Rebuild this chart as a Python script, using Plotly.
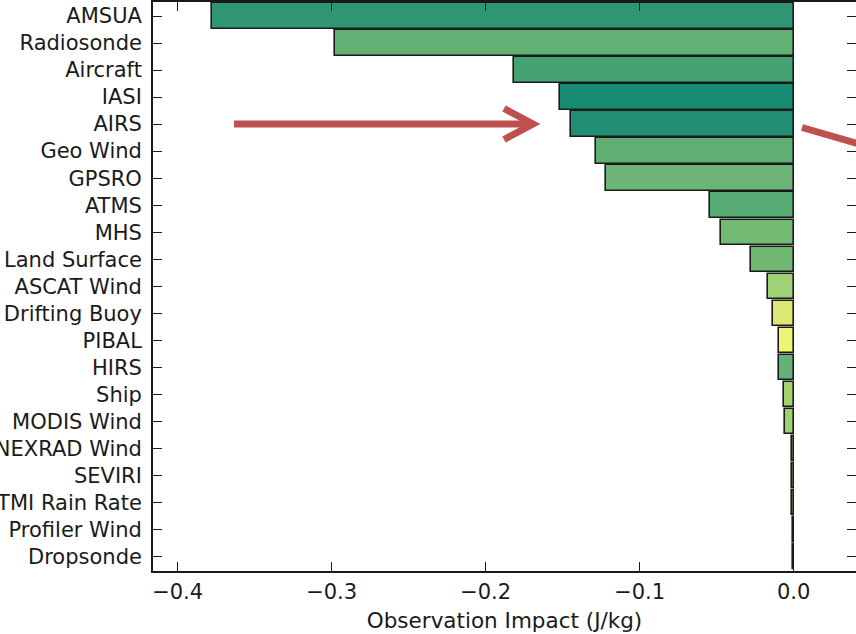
import plotly.graph_objects as go

# Observation types, ordered from largest to smallest impact
obs_types = [
    "AMSUA", "Radiosonde", "Aircraft", "IASI", "AIRS", "Geo Wind", "GPSRO",
    "ATMS", "MHS", "Land Surface", "ASCAT Wind", "Drifting Buoy", "PIBAL",
    "HIRS", "Ship", "MODIS Wind", "NEXRAD Wind", "SEVIRI", "TMI Rain Rate",
    "Profiler Wind", "Dropsonde",
]

# Total observation impact (J/kg)
impact = [
    -0.378, -0.2977, -0.1816, -0.1518, -0.1446, -0.1284, -0.1219,
    -0.0545, -0.0473, -0.0279, -0.0169, -0.0136, -0.0097,
    -0.0097, -0.0065, -0.0058, -0.0010, -0.0010, -0.0009,
    -0.0001, -0.0001,
]

# Bar fill colours
bar_colors = [
    "#2E9674", "#62B175", "#45A373", "#178A72", "#208E73", "#5FAE74", "#6CB576",
    "#56AA73", "#73BA75", "#70B872", "#A0D275", "#DDE977", "#EEF573",
    "#62B275", "#A0D26E", "#9ED070", "#8CC870", "#8CC870", "#8CC870",
    "#8CC870", "#8CC870",
]

x_ticks = [-0.4, -0.3, -0.2, -0.1, 0.0]

W, H = 856, 634
ML, MR, MT, MB = 153, 0, 2, 63
FONT = "DejaVu Sans"
INK = "#1a1a1a"
ARROW = "#C0504D"

fig = go.Figure()
fig.add_trace(go.Bar(
    x=impact, y=obs_types, orientation="h",
    marker=dict(color=bar_colors, line=dict(color=INK, width=1.6)),
    width=0.94, hoverinfo="skip",
))
# invisible companion trace that carries the right-hand tick marks
fig.add_trace(go.Scatter(
    x=[0] * len(obs_types), y=obs_types, yaxis="y2", mode="markers",
    marker=dict(opacity=0), hoverinfo="skip", showlegend=False,
))

y_range = [len(obs_types) - 0.46, -0.52]

fig.update_layout(
    width=W, height=H,
    margin=dict(l=ML, r=MR, t=MT, b=MB, pad=0, autoexpand=False),
    plot_bgcolor="white", paper_bgcolor="white",
    showlegend=False, bargap=0,
    font=dict(family=FONT, size=21, color=INK),
    xaxis=dict(
        range=[-0.416, 0.0405], tickvals=x_ticks, tickformat=".1f",
        ticks="inside", ticklen=9, tickwidth=1.3, tickcolor=INK,
        showline=True, linecolor=INK, linewidth=1.8, mirror="ticks",
        showgrid=False, zeroline=False, automargin=False,
        tickfont=dict(size=21), ticklabelstandoff=1,
        title=dict(text="Observation Impact (J/kg)", font=dict(size=21.5), standoff=10),
    ),
    yaxis=dict(
        type="category", categoryorder="array", categoryarray=obs_types,
        range=y_range, automargin=False,
        ticks="inside", ticklen=9, tickwidth=1.3, tickcolor=INK,
        showline=True, linecolor=INK, linewidth=1.8, mirror=False,
        showgrid=False, zeroline=False, ticklabelstandoff=5,
        tickfont=dict(size=21),
    ),
    yaxis2=dict(
        type="category", categoryorder="array", categoryarray=obs_types,
        range=y_range, overlaying="y", side="right", automargin=False,
        ticks="inside", ticklen=9, tickwidth=1.3, tickcolor=INK,
        showline=False, showticklabels=False, showgrid=False, zeroline=False,
    ),
)


def px(x, y):
    """Pixel position on the page -> paper coordinates."""
    pw = W - ML - MR
    ph = H - MT - MB
    return (x - ML) / pw, (H - MB - y) / ph


def path(points):
    parts = []
    for i, (x, y) in enumerate(points):
        u, v = px(x, y)
        parts.append(("M" if i == 0 else "L") + f"{u:.5f},{v:.5f}")
    return " ".join(parts)


# callout arrows pointing at the AIRS bar
fig.add_shape(type="path", xref="paper", yref="paper",
              path=path([(234, 124), (531, 124)]),
              line=dict(color=ARROW, width=7))
fig.add_shape(type="path", xref="paper", yref="paper",
              path=path([(504, 108.5), (533, 124), (504, 139.5)]),
              line=dict(color=ARROW, width=7))
fig.add_shape(type="path", xref="paper", yref="paper",
              path=path([(802, 127.5), (880, 150)]),
              line=dict(color=ARROW, width=7))

fig.write_html("out.html")
